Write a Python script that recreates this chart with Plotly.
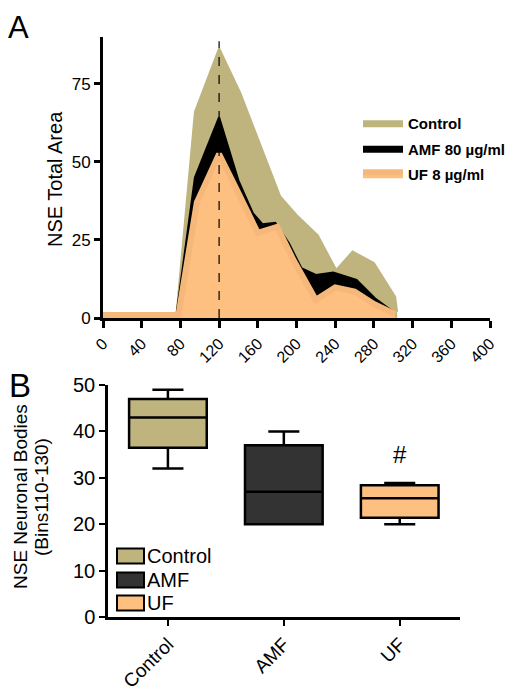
import plotly.graph_objects as go

# ---- Panel A data (NSE total area vs bin) ----
ctrl_x = [0, 20, 40, 60, 76, 95, 120, 142, 162, 183, 200, 222, 241, 258, 280, 302, 304]
ctrl_y = [1.2, 1.2, 1.2, 1.2, 1.2, 66, 86.4, 72, 56, 39, 33, 26.5, 15.4, 21.3, 17.6, 6.8, 2]
amf_x = [0, 20, 40, 60, 76, 95, 120, 140, 155, 165, 178, 192, 205, 220, 238, 262, 281, 300]
amf_y = [1.2, 1.2, 1.2, 1.2, 1.2, 45, 64.3, 44, 33.5, 30, 30.5, 24, 16, 13.8, 14.6, 12.2, 6.3, 2]
uf_x = [0, 20, 40, 60, 78, 97, 120, 140, 160, 180, 197, 220, 240, 260, 280, 302]
uf_y = [1.0, 1.0, 1.0, 1.0, 1.0, 37, 52.5, 40, 27.3, 29.2, 18.5, 5.8, 9.8, 8.5, 4.5, 1.2]
peak_bin = 120
a_xticks = [0, 40, 80, 120, 160, 200, 240, 280, 320, 360, 400]
a_yticks = [0, 25, 50, 75]

# ---- Panel B data (box statistics) ----
groups = ["Control", "AMF", "UF"]
q1 = [36.5, 20.0, 21.4]
med = [43.0, 27.0, 25.6]
q3 = [47.0, 37.0, 28.4]
lo = [32.0, 20.0, 20.0]
hi = [49.0, 40.0, 28.9]
b_yticks = [0, 10, 20, 30, 40, 50]
sig_group = "UF"
sig_value = 35.0

c_ctrl = "rgb(191,180,126)"
c_amf_area = "rgb(0,0,0)"
c_amf_box = "rgb(51,51,51)"
c_uf = "rgb(254,192,128)"
c_uf_line = "rgb(245,183,122)"
box_fill = [c_ctrl, c_amf_box, c_uf]

sans = "Liberation Sans, Arial, sans-serif"

# page body has an 8px margin -> figure drawn at (8, 8)
OFF = 8
W, H = 520 - OFF, 691 - OFF
def fx(v):
    return (v - OFF) / W
def fy(v):
    return 1 - (v - OFF) / H

fig = go.Figure()

fig.add_trace(go.Scatter(x=ctrl_x, y=ctrl_y, mode="lines", fill="tozeroy",
                         fillcolor=c_ctrl, line=dict(color=c_ctrl, width=2),
                         name="Control", legendgroup="c", xaxis="x", yaxis="y"))
fig.add_trace(go.Scatter(x=amf_x, y=amf_y, mode="lines", fill="tozeroy",
                         fillcolor=c_amf_area, line=dict(color=c_amf_area, width=2),
                         name="AMF 80 µg/ml", legendgroup="a", xaxis="x", yaxis="y"))
fig.add_trace(go.Scatter(x=uf_x, y=uf_y, mode="lines", fill="tozeroy",
                         fillcolor=c_uf, line=dict(color=c_uf_line, width=6),
                         name="UF 8 µg/ml", legendgroup="u", xaxis="x", yaxis="y"))

for i, g in enumerate(groups):
    fig.add_trace(go.Box(x=[g], q1=[q1[i]], median=[med[i]], q3=[q3[i]],
                         lowerfence=[lo[i]], upperfence=[hi[i]],
                         fillcolor=box_fill[i], line=dict(color="black", width=2.5),
                         width=0.67, whiskerwidth=0.4, name=g, boxpoints=False,
                         showlegend=False, xaxis="x2", yaxis="y2"))

fig.update_layout(
    width=W, height=H, margin=dict(l=0, r=0, t=0, b=0),
    paper_bgcolor="white", plot_bgcolor="white", showlegend=True, boxmode="overlay",
    xaxis=dict(domain=[fx(103), fx(490)], range=[0, 400], anchor="y", automargin=False,
               tickvals=a_xticks, ticks="outside", ticklen=7, tickwidth=2.5,
               tickcolor="black", showline=True, linewidth=3, linecolor="black",
               showgrid=False, zeroline=False, tickangle=-45,
               tickfont=dict(family=sans, size=16, color="black")),
    yaxis=dict(domain=[fy(318), fy(37)], range=[0, 90], anchor="x", automargin=False,
               tickvals=a_yticks, ticks="outside", ticklen=6, tickwidth=2.5,
               tickcolor="black", showline=True, linewidth=3, linecolor="black",
               showgrid=False, zeroline=False,
               tickfont=dict(family=sans, size=17, color="black")),
    xaxis2=dict(domain=[fx(108), fx(460)], range=[-0.517, 2.52], anchor="y2",
                automargin=False,
                type="category", categoryarray=groups, ticks="outside", ticklen=6,
                tickwidth=2, tickcolor="black", showline=True, linewidth=2.5,
                linecolor="black", showgrid=False, zeroline=False, tickangle=-45,
                tickfont=dict(family=sans, size=19, color="black")),
    yaxis2=dict(domain=[fy(617), fy(385)], range=[0, 50], anchor="x2", automargin=False,
                tickvals=b_yticks, ticks="outside", ticklen=6, tickwidth=2,
                tickcolor="black", showline=True, linewidth=2.5, linecolor="black",
                showgrid=False, zeroline=False,
                tickfont=dict(family=sans, size=20, color="black")),
    legend=dict(x=fx(358), y=fy(107), xanchor="left", yanchor="top",
                bgcolor="rgba(0,0,0,0)", itemwidth=40, tracegroupgap=3,
                font=dict(family=sans, size=15, color="black", weight="bold"),
                traceorder="grouped"),
)

fig.add_shape(type="line", xref="x", yref="y", x0=peak_bin, x1=peak_bin, y0=0, y1=88.6,
              line=dict(color="black", width=1.2, dash="dash"), layer="above")

# panel B legend (swatch + label per group)
leg_y = [556, 580, 603]
for i, g in enumerate(groups):
    fig.add_shape(type="rect", xref="paper", yref="paper",
                  x0=fx(117), x1=fx(144), y0=fy(leg_y[i] + 7.5), y1=fy(leg_y[i] - 7.5),
                  fillcolor=box_fill[i], line=dict(color="black", width=2))
    fig.add_annotation(xref="paper", yref="paper", x=fx(145), y=fy(leg_y[i]), text=g,
                       showarrow=False, xanchor="left", yanchor="middle",
                       font=dict(family=sans, size=20, color="black"))

fig.add_annotation(xref="x2", yref="y2", x=sig_group, y=sig_value, text="#",
                   showarrow=False, font=dict(family=sans, size=24, color="black"))
fig.add_annotation(xref="paper", yref="paper", x=fx(18), y=fy(8.5), text="A",
                   showarrow=False, xanchor="center", yanchor="top",
                   font=dict(family=sans, size=31, color="black"))
fig.add_annotation(xref="paper", yref="paper", x=fx(20), y=fy(385), text="B",
                   showarrow=False, xanchor="center", yanchor="middle",
                   font=dict(family=sans, size=33, color="black"))
fig.add_annotation(xref="paper", yref="paper", x=fx(55), y=fy(179), text="NSE Total Area",
                   textangle=-90, showarrow=False, xanchor="center", yanchor="middle",
                   font=dict(family=sans, size=20, color="black"))
fig.add_annotation(xref="paper", yref="paper", x=fx(20), y=fy(497),
                   text="NSE Neuronal Bodies",
                   textangle=-90, showarrow=False, xanchor="center", yanchor="middle",
                   font=dict(family=sans, size=19, color="black"))
fig.add_annotation(xref="paper", yref="paper", x=fx(41), y=fy(497),
                   text="(Bins110-130)",
                   textangle=-90, showarrow=False, xanchor="center", yanchor="middle",
                   font=dict(family=sans, size=19, color="black"))

fig.write_html("out.html")
